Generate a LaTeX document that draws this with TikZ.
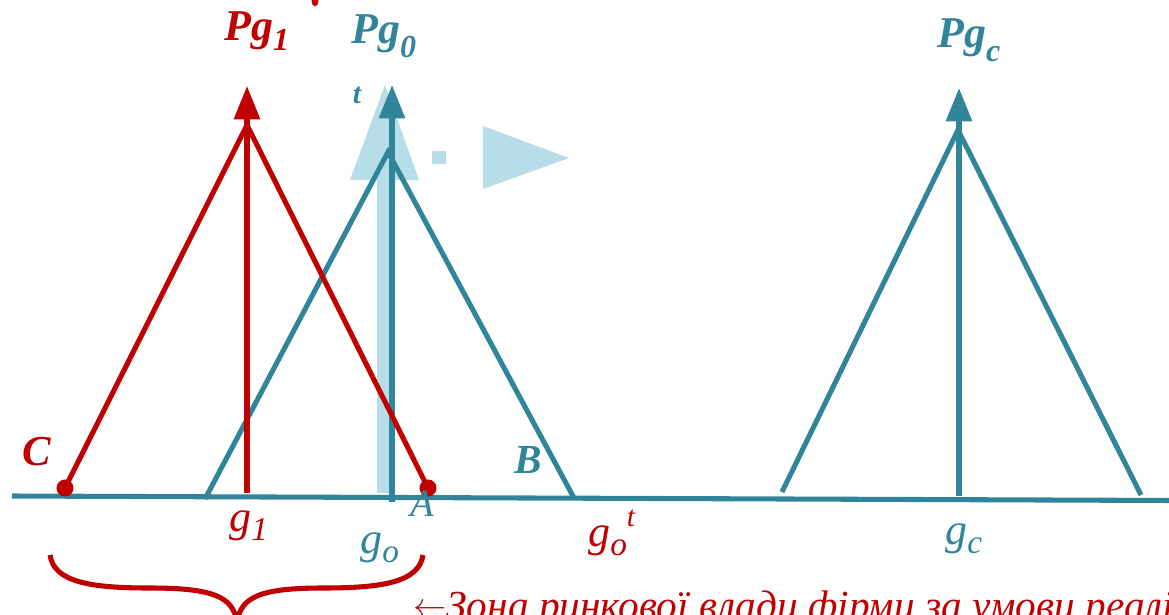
\documentclass[tikz,border=0pt]{standalone}
\usepackage{fontspec}
\setmainfont{Liberation Serif}
\usetikzlibrary{arrows.meta}
\definecolor{redline}{RGB}{192,0,0}
\definecolor{tealline}{RGB}{49,133,155}
\definecolor{paleblue}{RGB}{183,221,232}
\newcommand{\lowsub}[3][22]{\raisebox{-#2}{\fontsize{#1}{#1}\selectfont #3}}
\tikzset{
  thickline/.style={line width=3.8pt},
  uparrow/.style={thickline, -{Triangle[length=25pt,width=19pt]}},
  bigbold/.style={inner sep=0pt, anchor=base west, font=\fontsize{33}{35}\selectfont\bfseries\itshape},
  gtext/.style={inner sep=0pt, anchor=base west, font=\fontsize{33}{35}\selectfont\itshape}
}
\begin{document}
\begin{tikzpicture}[x=0.75pt,y=-0.75pt]
    \useasboundingbox (0,0) rectangle (1169,614);
    \clip (0,0) rectangle (1169,614);
    % pale marks
    \fill[paleblue] (377,180) rectangle (391,493);
    \fill[paleblue] (385,85) -- (419,180) -- (350,180) -- cycle;
    \fill[paleblue] (432,151) rectangle (446,164);
    \fill[paleblue] (483,126) -- (569,158) -- (483,189) -- cycle;
    \fill[redline] (315,1) ellipse [x radius=2.6pt, y radius=4pt];
    % axis
    \coordinate (axL) at (12,496); \coordinate (axR) at (1175,500.5);
    \draw[thickline, tealline] (axL) -- (axR);
    % market g_0
    \coordinate (topO) at (388,152); \coordinate (footO) at (205,499); \coordinate (B) at (574,498);
    \draw[thickline, tealline] (footO) -- (topO) -- (B);
    \draw[uparrow, tealline] (392,502) -- (392,85);
    % market g_c
    \coordinate (topC) at (958,130); \coordinate (footCl) at (782,492); \coordinate (footCr) at (1141,495);
    \draw[thickline, tealline] (footCl) -- (topC) -- (footCr);
    \draw[uparrow, tealline] (959,496) -- (959,88);
    % market g_1
    \coordinate (top1) at (247,125); \coordinate (C) at (65,488); \coordinate (A) at (428,488);
    \draw[thickline, redline] (C) -- (top1) -- (A);
    \draw[uparrow, redline] (247,493) -- (247,86);
    \fill[redline] (C) circle [radius=6.4pt];
    \fill[redline] (A) circle [radius=6.4pt];
    % brace
    \coordinate (brL) at (50,555); \coordinate (brR) at (423,555); \coordinate (brTip) at (237,622);
    \draw[thickline, redline] (brL) .. controls (54,582) and (90,588) .. (150,588)
        .. controls (214,588) and (233,597) .. (brTip);
    \draw[thickline, redline] (brR) .. controls (419,582) and (383,588) .. (323,588)
        .. controls (260,588) and (241,597) .. (brTip);
    % labels
    \node[bigbold, redline] (lPg1) at (224,40) {Pg\lowsub[24]{8pt}{1}};
    \node[bigbold, tealline] (lPg0) at (351,43) {Pg\lowsub[24]{11pt}{0}};
    \node[bigbold, tealline] (lPgc) at (937,47) {Pg\lowsub[24]{11pt}{c}};
    \node[inner sep=0pt, tealline, font=\fontsize{22}{22}\selectfont\bfseries\itshape] (lt) at (357,95) {t};
    \node[bigbold, redline, font=\fontsize{32}{34}\selectfont\bfseries\itshape] (lC) at (22,465) {C};
    \node[bigbold, tealline, font=\fontsize{31}{33}\selectfont\bfseries\itshape] (lB) at (514,473) {B};
    \node[gtext, tealline, font=\fontsize{29}{31}\selectfont\itshape] (lA) at (410,516) {A};
    \node[gtext, redline] (lg1) at (229,531) {g\lowsub[25]{7pt}{\itshape 1}};
    \node[gtext, tealline] (lgo) at (360,553) {g\lowsub[25]{7pt}{\itshape o}};
    \node[gtext, redline] (lgot) at (588,546) {g\lowsub[25]{7pt}{\itshape o}\raisebox{15pt}{\fontsize{22}{22}\selectfont\itshape t}};
    \node[gtext, tealline] (lgc) at (945,544) {g\lowsub[25]{7pt}{\itshape c}};
    \node[gtext, redline, font=\fontsize{31}{33}\selectfont\itshape] (zone) at (413,619)
        {\raisebox{2pt}{\fontsize{24}{24}\selectfont$\leftarrow$}Зона ринкової влади фірми за умови реалізації};
\end{tikzpicture}
\end{document}
